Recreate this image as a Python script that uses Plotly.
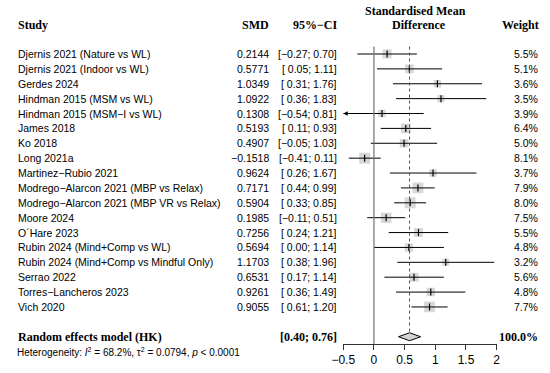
import plotly.graph_objects as go

# ---------------- data ----------------
studies = [
    "Djernis 2021 (Nature vs WL)",
    "Djernis 2021 (Indoor vs WL)",
    "Gerdes 2024",
    "Hindman 2015 (MSM vs WL)",
    "Hindman 2015 (MSM\u2212I vs WL)",
    "James 2018",
    "Ko 2018",
    "Long 2021a",
    "Martinez\u2212Rubio 2021",
    "Modrego\u2212Alarcon 2021 (MBP vs Relax)",
    "Modrego\u2212Alarcon 2021 (MBP VR vs Relax)",
    "Moore 2024",
    "O\u00b4Hare 2023",
    "Rubin 2024 (Mind+Comp vs WL)",
    "Rubin 2024 (Mind+Comp vs Mindful Only)",
    "Serrao 2022",
    "Torres\u2212Lancheros 2023",
    "Vich 2020",
]
smd = [0.2144, 0.5771, 1.0349, 1.0922, 0.1308, 0.5193, 0.4907, -0.1518, 0.9624,
       0.7171, 0.5904, 0.1985, 0.7256, 0.5694, 1.1703, 0.6531, 0.9261, 0.9055]
ci_lower = [-0.27, 0.05, 0.31, 0.36, -0.54, 0.11, -0.05, -0.41, 0.26,
            0.44, 0.33, -0.11, 0.24, 0.00, 0.38, 0.17, 0.36, 0.61]
ci_upper = [0.70, 1.11, 1.76, 1.83, 0.81, 0.93, 1.03, 0.11, 1.67,
            0.99, 0.85, 0.51, 1.21, 1.14, 1.96, 1.14, 1.49, 1.20]
weights = [5.5, 5.1, 3.6, 3.5, 3.9, 6.4, 5.0, 8.1, 3.7,
           7.9, 8.0, 7.5, 5.5, 4.8, 3.2, 5.6, 4.8, 7.7]

pooled_label = "Random effects model (HK)"
pooled_est = 0.58
pooled_lower = 0.40
pooled_upper = 0.76
pooled_weight = 100.0
heterogeneity = "Heterogeneity: <i>I</i><sup>2</sup> = 68.2%, \u03c4<sup>2</sup> = 0.0794, <i>p</i> &lt; 0.0001"

x_ticks = [-0.5, 0, 0.5, 1, 1.5, 2]
x_range = [-0.5, 2]

# ---------------- layout constants ----------------
W, H = 550, 373
ROW0_PX = 54.0      # pixel of first study row
ROW_PX = 14.88      # pixel spacing per row
AXIS_PX = 344.0     # pixel of x-axis line
y_top = ROW0_PX / ROW_PX
y_bot = y_top - H / ROW_PX
y_axis = y_top - AXIS_PX / ROW_PX

n = len(studies)
rows = [-i for i in range(n)]
pooled_row = -(n + 1)
het_row = -(n + 2)

body_font = "Liberation Sans, Arial, sans-serif"
head_font = "Liberation Serif, Times New Roman, serif"
BODY_SIZE = 10.5


def fmt(v, width=0):
    s = f"{v:{width}.2f}" if width else f"{v:.2f}"
    return s.replace("-", "\u2212")


fig = go.Figure()

# squares (area proportional to weight)
maxw = max(weights)
sizes = [11.0 * (w / maxw) ** 0.5 for w in weights]
fig.add_trace(go.Scatter(
    x=smd, y=rows, mode="markers",
    marker=dict(symbol="square", size=sizes, color="#c8c8c8", line=dict(width=0)),
    hoverinfo="skip", showlegend=False))

# CI lines (clipped to axis range)
lx, ly = [], []
for lo, hi, r in zip(ci_lower, ci_upper, rows):
    lx += [max(lo, x_range[0]), min(hi, x_range[1]), None]
    ly += [r, r, None]
fig.add_trace(go.Scatter(x=lx, y=ly, mode="lines", line=dict(color="black", width=1),
                         hoverinfo="skip", showlegend=False))

# centre ticks
fig.add_trace(go.Scatter(
    x=smd, y=rows, mode="markers",
    marker=dict(symbol="line-ns", size=5, line=dict(color="black", width=1.2)),
    hoverinfo="skip", showlegend=False))

# diamond
dh = 4.0 / ROW_PX
fig.add_trace(go.Scatter(
    x=[pooled_lower, pooled_est, pooled_upper, pooled_est, pooled_lower],
    y=[pooled_row, pooled_row + dh, pooled_row, pooled_row - dh, pooled_row],
    mode="lines", fill="toself", fillcolor="#d3d3d3",
    line=dict(color="black", width=1), hoverinfo="skip", showlegend=False))

# reference lines
fig.add_shape(type="line", xref="x", yref="y", x0=0, x1=0, y0=0.5, y1=y_axis,
              line=dict(color="#707070", width=1.2))
fig.add_shape(type="line", xref="x", yref="y", x0=pooled_est, x1=pooled_est,
              y0=0.5, y1=pooled_row + dh, line=dict(color="#505050", width=1, dash="dot"))

ann = []

# arrows for clipped CIs
for lo, hi, r in zip(ci_lower, ci_upper, rows):
    if lo < x_range[0]:
        ann.append(dict(x=x_range[0], y=r, ax=x_range[0] + 0.12, ay=r, xref="x", yref="y",
                        axref="x", ayref="y", showarrow=True, arrowhead=2, arrowsize=0.9,
                        arrowwidth=1, arrowcolor="black", text=""))
    if hi > x_range[1]:
        ann.append(dict(x=x_range[1], y=r, ax=x_range[1] - 0.12, ay=r, xref="x", yref="y",
                        axref="x", ayref="y", showarrow=True, arrowhead=2, arrowsize=0.9,
                        arrowwidth=1, arrowcolor="black", text=""))

def px(x):
    return x / W

def txt(text, xpix, y, anchor, font=body_font, size=BODY_SIZE, color="black"):
    ann.append(dict(x=px(xpix), y=y, xref="paper", yref="y", text=text, showarrow=False,
                    xanchor=anchor, yanchor="middle",
                    font=dict(family=font, size=size, color=color)))

for name, v, lo, hi, w, r in zip(studies, smd, ci_lower, ci_upper, weights, rows):
    txt(name, 4, r, "left")
    txt(f"{v:.4f}".replace("-", "\u2212"), 267, r, "right")
    txt(f"[{fmt(lo, 5)}; {fmt(hi)}]", 336.5, r, "right")
    txt(f"{w:.1f}%", 543.5, r, "right")

# headers
txt("<b>Study</b>", 4, 1.95, "left", head_font, 12)
txt("<b>SMD</b>", 267, 1.95, "right", head_font, 12)
txt("<b>95%\u2212CI</b>", 338, 1.95, "right", head_font, 12)
txt("<b>Standardised Mean</b>", 416, 2.89, "center", head_font, 12)
txt("<b>Difference</b>", 419, 1.95, "center", head_font, 12)
txt("<b>Weight</b>", 545, 1.95, "right", head_font, 12)

# pooled row
txt(f"<b>{pooled_label}</b>", 4, pooled_row, "left", head_font, 12)
txt(f"<b>[{fmt(pooled_lower)}; {fmt(pooled_upper)}]</b>", 336.5, pooled_row, "right", head_font, 12)
txt(f"<b>{pooled_weight:.1f}%</b>", 543.5, pooled_row, "right", head_font, 12)

# heterogeneity
txt(heterogeneity, 3, het_row, "left", body_font, 10)

fig.update_layout(
    width=W, height=H, autosize=False,
    margin=dict(l=0, r=0, t=0, b=0),
    paper_bgcolor="white", plot_bgcolor="white",
    showlegend=False,
    annotations=ann,
    xaxis=dict(domain=[341.2 / W, 499.2 / W], range=x_range, anchor="free",
               position=(H - AXIS_PX) / H, tickvals=x_ticks,
               showline=True, linecolor="#333333", linewidth=1,
               ticks="outside", ticklen=5, tickcolor="#333333", tickwidth=1,
               showgrid=False, zeroline=False,
               tickfont=dict(family=body_font, size=12, color="black")),
    yaxis=dict(domain=[0, 1], range=[y_bot, y_top], visible=False,
               showgrid=False, zeroline=False),
)

fig.write_html("out.html",
               config={"displayModeBar": False, "staticPlot": True},
               post_script="document.body.style.margin='0px';document.body.style.overflow='hidden';")
